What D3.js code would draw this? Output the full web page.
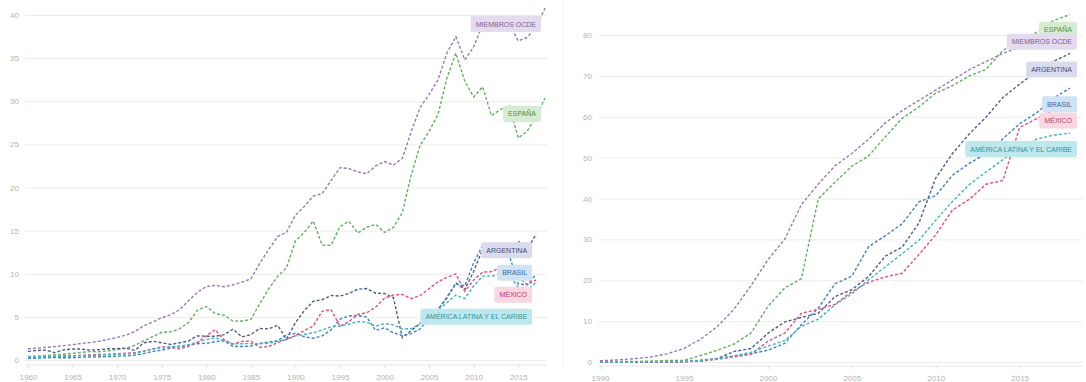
<!DOCTYPE html>
<html>
<head>
<meta charset="utf-8">
<script src="https://cdn.jsdelivr.net/npm/d3@7"></script>
<style>
  body { margin: 0; background: #fff; }
  svg { display: block; font-family: "Liberation Sans", Arial, sans-serif; }
</style>
</head>
<body>
<svg id="chart" width="1086" height="382"></svg>
<script>
// ---- data: GDP per capita (thousand current US$), 1960-2018 ----
const gdpYears = d3.range(1960, 2019);
const oecdGdp = [1.30,1.37,1.46,1.55,1.67,1.78,1.93,2.04,2.18,2.39,
  2.62,2.88,3.31,3.98,4.41,4.89,5.24,5.83,6.87,7.84,
  8.53,8.66,8.49,8.72,9.03,9.40,11.2,12.8,14.3,14.8,
  16.8,17.8,19.0,19.3,20.8,22.3,22.2,21.8,21.6,22.5,
  23.0,22.6,23.4,26.5,29.3,30.8,32.5,35.6,37.5,34.8,
  36.3,38.9,38.3,38.6,39.0,37.0,37.4,38.6,40.8];
const spainGdp = [0.40,0.45,0.52,0.60,0.67,0.77,0.88,0.97,0.96,1.07,
  1.21,1.36,1.71,2.24,2.72,3.21,3.26,3.61,4.34,5.76,
  6.21,5.37,5.19,4.51,4.52,4.70,6.53,8.24,9.70,10.68,
  13.80,14.79,16.11,13.33,13.29,15.47,16.08,14.73,15.39,15.72,
  14.79,15.37,17.10,21.50,24.92,26.51,28.48,32.71,35.58,32.33,
  30.50,31.68,28.32,29.06,29.46,25.73,26.54,28.17,30.38];
// the Latin American series stop one year earlier (2017)
const argentinaGdp = [1.00,1.10,1.15,0.85,1.17,1.27,1.27,1.14,1.20,1.30,
  1.32,1.38,1.11,2.00,2.17,2.00,1.80,2.00,2.20,2.80,
  2.76,2.75,2.94,3.57,2.68,2.95,3.66,3.60,4.03,2.42,
  4.33,5.73,6.82,6.99,7.48,7.41,7.71,8.21,8.28,7.74,
  7.71,7.21,2.58,3.41,4.25,5.08,5.87,7.19,8.95,8.16,
  10.28,12.85,13.08,13.08,12.33,13.79,12.79,14.59];
const brazilGdp = [0.21,0.21,0.26,0.29,0.26,0.26,0.33,0.35,0.37,0.40,
  0.44,0.49,0.56,0.75,0.98,1.14,1.37,1.55,1.73,1.89,
  1.93,2.13,2.23,1.57,1.56,1.62,1.92,2.07,2.23,2.93,
  3.09,2.68,2.53,2.79,3.50,4.75,5.11,5.16,4.97,3.43,
  3.73,3.14,2.83,3.06,3.62,4.77,5.86,7.31,8.83,8.60,
  11.29,13.25,12.37,12.30,12.11,8.81,8.71,9.93];
const mexicoGdp = [0.35,0.37,0.39,0.42,0.48,0.51,0.55,0.59,0.63,0.68,
  0.73,0.78,0.87,1.03,1.29,1.53,1.49,1.30,1.59,2.05,
  2.80,3.52,2.33,1.85,2.16,2.20,1.48,1.56,2.01,2.41,
  2.84,3.41,3.95,5.65,5.85,3.91,4.44,5.29,5.48,6.13,
  7.16,7.54,7.60,7.12,7.48,8.28,9.07,9.59,9.98,7.97,
  9.27,10.20,10.24,10.73,10.93,9.62,8.74,9.29];
const lacGdp = [0.37,0.38,0.40,0.40,0.44,0.47,0.51,0.53,0.56,0.60,
  0.65,0.71,0.79,1.00,1.28,1.39,1.51,1.62,1.77,2.04,
  2.36,2.58,2.22,1.86,1.89,1.90,1.86,1.95,2.17,2.38,
  2.80,2.96,3.17,3.47,3.86,3.93,4.15,4.46,4.39,3.92,
  4.22,4.06,3.60,3.64,4.21,5.01,5.78,6.65,7.53,7.12,
  8.58,9.72,9.72,9.93,9.86,8.39,8.11,9.00];

// ---- data: internet users (% of population), 1990-2018 ----
const netYears = d3.range(1990, 2019);
const oecdNet = [0.3,0.5,0.8,1.2,2.0,3.3,5.6,8.7,13.0,18.7,
  25.0,30.0,38.5,43.5,48.0,51.0,54.5,58.5,61.5,64.0,
  66.5,69.0,71.5,73.5,75.5,77.0,78.5,80.5,82.5];
const spainNet = [0.04,0.09,0.13,0.2,0.38,0.38,1.6,2.9,4.4,7.1,
  13.6,18.1,20.4,39.9,44.0,47.9,50.4,55.1,59.6,62.4,
  65.8,67.6,70.0,71.6,76.2,78.7,80.6,83.5,85.0];
const argentinaNet = [0,0,0.01,0.01,0.03,0.08,0.28,0.84,2.6,3.3,
  7.0,9.8,10.9,11.9,16.0,17.7,20.9,25.9,28.1,34.0,
  45.0,51.0,55.8,59.9,64.7,68.0,71.0,73.5,75.5];
const brazilNet = [0,0.01,0.01,0.03,0.04,0.1,0.45,0.79,1.48,2.04,
  2.87,4.53,9.15,13.2,19.1,21.0,28.2,30.9,33.8,39.2,
  40.7,45.7,48.6,51.0,54.6,58.3,60.9,64.5,67.0];
const mexicoNet = [0,0.02,0.03,0.04,0.04,0.1,0.19,0.68,1.27,1.86,
  5.08,7.04,11.9,12.9,14.1,17.2,19.5,20.8,21.7,26.3,
  31.1,37.2,39.8,43.5,44.4,57.4,59.5,61.5,63.0];
const lacNet = [0,0.01,0.02,0.04,0.08,0.15,0.35,0.75,1.5,2.4,
  3.9,5.2,8.7,10.5,14.0,16.7,20.1,23.3,26.5,29.8,
  34.7,39.3,43.4,46.5,49.5,52.5,54.5,55.5,56.0];

const seriesNames = ["MIEMBROS OCDE", "ESPAÑA", "ARGENTINA", "BRASIL", "MÉXICO", "AMÉRICA LATINA Y EL CARIBE"];
const lineColors = ["#9a78b8", "#5fb35a", "#4d5d8f", "#3f80c9", "#e2507f", "#3fb6c6"];
const labelFills = ["#e4dbef", "#d6ecd2", "#d9dcee", "#d0e3f5", "#f8d6e2", "#bde8ee"];

const gdpXTicks = [1960,1965,1970,1975,1980,1985,1990,1995,2000,2005,2010,2015];
const gdpYTicks = [0,5,10,15,20,25,30,35,40];
const netXTicks = [1990,1995,2000,2005,2010,2015];
const netYTicks = [0,10,20,30,40,50,60,70,80];

const svg = d3.select("#chart");

function drawPanel(p) {
  const g = svg.append("g");
  const x = d3.scaleLinear().domain(p.xDomain).range(p.xRange);
  const y = d3.scaleLinear().domain(p.yDomain).range(p.yRange);

  // horizontal grid + y labels
  const yAxis = d3.axisLeft(y).tickValues(p.yTicks)
    .tickSize(-(p.gridRight - p.gridLeft)).tickPadding(6);
  const ya = g.append("g").attr("transform", `translate(${p.gridLeft},0)`).call(yAxis);
  ya.select(".domain").remove();
  ya.selectAll("line").attr("stroke", "#ececec");
  ya.selectAll("text").attr("fill", "#b4b4b4").style("font-size", "8px");

  // x axis
  const xAxis = d3.axisBottom(x).tickValues(p.xTicks).tickFormat(d3.format("d"))
    .tickSize(3).tickPadding(6);
  const xa = g.append("g").attr("transform", `translate(0,${p.axisY})`).call(xAxis);
  xa.select(".domain").attr("stroke", "#e6e6e6").attr("d", `M${p.gridLeft},0H${p.gridRight}`);
  xa.selectAll("line").attr("stroke", "#e0e0e0");
  xa.selectAll("text").attr("fill", "#b4b4b4").style("font-size", "8px");

  const line = d3.line().x((d, i) => x(p.years[i])).y(d => y(d));

  p.series.forEach((vals, k) => {
    g.append("path")
      .datum(vals)
      .attr("fill", "none")
      .attr("stroke", lineColors[k])
      .attr("stroke-width", 1.4)
      .attr("stroke-dasharray", "3,2")
      .attr("d", line);
  });

  // end labels, spread apart so they do not overlap too much
  const boxH = 16;
  const items = p.series.map((vals, k) => {
    const last = vals.length - 1;
    return { k, ex: x(p.years[last]), top: y(vals[last]) + 8 };
  });
  items.sort((a, b) => a.top - b.top);
  for (let it = 0; it < 200; it++) {
    for (let i = 1; i < items.length; i++) {
      const over = items[i - 1].top + boxH + p.gap - items[i].top;
      if (over > 0) { items[i - 1].top -= over / 2; items[i].top += over / 2; }
    }
  }

  items.forEach(d => {
    const lg = g.append("g");
    const rect = lg.append("rect").attr("fill", labelFills[d.k]).attr("rx", 2);
    const txt = lg.append("text")
      .text(seriesNames[d.k])
      .attr("fill", d3.color(lineColors[d.k]).darker(0.6))
      .style("font-size", "7px")
      .attr("dy", "0.35em");
    const w = txt.node().getComputedTextLength() + 10;
    const right = d.ex + p.labelDx;
    rect.attr("x", right - w).attr("y", d.top).attr("width", w).attr("height", boxH);
    txt.attr("x", right - w + 5).attr("y", d.top + boxH / 2);
  });
}

drawPanel({
  years: gdpYears,
  series: [oecdGdp, spainGdp, argentinaGdp, brazilGdp, mexicoGdp, lacGdp],
  xDomain: [1960, 2018], xRange: [28, 545],
  yDomain: [0, 40], yRange: [360, 15],
  xTicks: gdpXTicks, yTicks: gdpYTicks,
  gridLeft: 25, gridRight: 547, axisY: 365,
  labelDx: -4, gap: 6
});

drawPanel({
  years: netYears,
  series: [oecdNet, spainNet, argentinaNet, brazilNet, mexicoNet, lacNet],
  xDomain: [1990, 2018], xRange: [600, 1070],
  yDomain: [0, 80], yRange: [362, 35],
  xTicks: netXTicks, yTicks: netYTicks,
  gridLeft: 598, gridRight: 1082, axisY: 366,
  labelDx: 7, gap: -4
});

// divider between the two panels
svg.append("line")
  .attr("x1", 563).attr("x2", 563).attr("y1", 0).attr("y2", 368)
  .attr("stroke", "#f0f0f0");
</script>
</body>
</html>
